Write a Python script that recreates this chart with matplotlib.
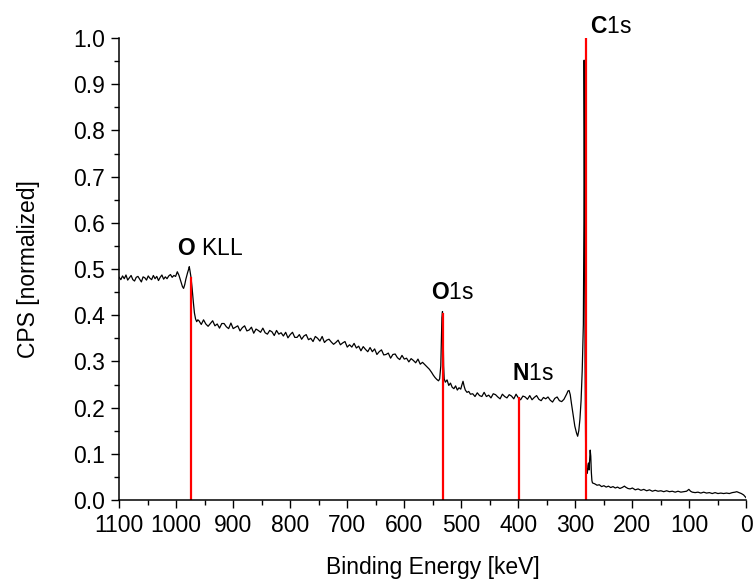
import matplotlib
matplotlib.use("Agg")
import matplotlib.pyplot as plt
from matplotlib.ticker import MultipleLocator

plt.rcParams['font.family'] = ['Liberation Sans', 'DejaVu Sans']
plt.rcParams['mathtext.fontset'] = 'custom'
plt.rcParams['mathtext.rm'] = 'Liberation Sans'
plt.rcParams['mathtext.bf'] = 'Liberation Sans:bold'

# survey spectrum (binding energy in eV, normalized counts)
energy = [
    # plateau
    1100, 1097, 1094, 1091, 1088, 1085, 1082, 1079, 1076, 1073, 1070, 1067, 1064, 1061,
    1058, 1055, 1052, 1049, 1046, 1043, 1040, 1037, 1034, 1031, 1028, 1025, 1022, 1019,
    1016, 1013, 1010, 1007, 1004, 1001,
    # O KLL
    998, 995, 992, 989, 987, 985, 983, 980, 978, 977, 976, 974, 972, 970, 968, 966, 964, 962,
    # background slope
    960, 956, 952, 948, 944, 940, 936, 932, 928, 924, 920, 916, 912, 908, 904, 900,
    896, 892, 888, 884, 880, 876, 872, 868, 864, 860, 856, 852, 848, 844, 840, 836,
    832, 828, 824, 820, 816, 812, 808, 804, 800, 796, 792, 788, 784, 780, 776, 772,
    768, 764, 760, 756, 752, 748, 744, 740, 736, 732, 728, 724,
    720, 716, 712, 708, 704, 700, 696, 692, 688, 684, 680, 676, 672, 668, 664, 660,
    656, 652, 648, 644, 640, 636, 632, 628, 624, 620, 616, 612, 608, 604, 600, 596,
    592, 588, 584, 580, 576, 572, 568, 564,
    # O1s
    560, 556, 552, 549, 546, 543, 540, 538, 536, 535, 534, 533, 532, 531, 530, 528,
    525, 522, 519, 516, 513, 510, 507, 504, 501, 499, 497, 495, 493, 490, 487, 484,
    # flat region with N1s
    480, 476, 472, 468, 464, 460, 456, 452, 448, 444, 440, 436, 432, 428, 424, 420,
    416, 412, 408, 404, 400, 396, 392, 388, 384, 380, 376, 372, 368, 364, 360, 356,
    352, 348, 344, 340, 336, 332, 328, 324, 320,
    # C1s
    317, 315, 313, 311, 309, 307, 304, 301, 298, 296, 294, 292, 290, 288, 286, 285,
    284.6, 284, 283, 282, 281, 280, 279, 278, 277, 276, 275, 274, 273, 272, 271, 270,
    # tail
    266, 262, 258, 254, 250, 246, 242, 238, 234, 230, 226, 222, 218, 214, 212, 208,
    204, 200, 195, 190, 185, 180, 175, 170, 165, 160, 155, 150, 145, 140, 135, 130,
    125, 120, 115, 110, 105, 101, 98, 95, 90, 85, 80, 75, 70, 65, 60, 55, 50, 45,
    40, 35, 30, 25, 20, 17, 13, 9, 5, 2, 0]
cps = [
    0.482, 0.477, 0.485, 0.479, 0.487, 0.476, 0.481, 0.486, 0.477, 0.474, 0.482, 0.484, 0.478, 0.472,
    0.483, 0.481, 0.476, 0.485, 0.480, 0.477, 0.486, 0.479, 0.484, 0.475, 0.482, 0.487, 0.478, 0.483,
    0.479, 0.485, 0.488, 0.482, 0.486, 0.484,
    0.494, 0.486, 0.474, 0.462, 0.458, 0.466, 0.478, 0.492, 0.500, 0.505, 0.498, 0.482, 0.458, 0.430,
    0.405, 0.392, 0.386, 0.390,
    0.388, 0.380, 0.390, 0.381, 0.376, 0.382, 0.388, 0.377, 0.381, 0.372, 0.382, 0.382, 0.375, 0.371,
    0.383, 0.371, 0.374, 0.377, 0.366, 0.373, 0.377, 0.366, 0.368, 0.374, 0.361, 0.370, 0.367, 0.363,
    0.372, 0.362, 0.359, 0.367, 0.364, 0.356, 0.367, 0.359, 0.362, 0.355, 0.363, 0.351, 0.358, 0.363,
    0.352, 0.352, 0.358, 0.348, 0.355, 0.358, 0.347, 0.350, 0.343, 0.354, 0.350, 0.344, 0.354, 0.341,
    0.346, 0.348, 0.342, 0.337,
    0.341, 0.346, 0.336, 0.340, 0.343, 0.331, 0.336, 0.331, 0.339, 0.329, 0.333, 0.323, 0.332, 0.326,
    0.321, 0.330, 0.321, 0.327, 0.315, 0.321, 0.325, 0.314, 0.315, 0.318, 0.307, 0.315, 0.316, 0.308,
    0.304, 0.313, 0.305, 0.307, 0.299, 0.306, 0.302, 0.297, 0.305, 0.294, 0.298, 0.293,
    0.288, 0.283, 0.276, 0.270, 0.265, 0.261, 0.258, 0.262, 0.290, 0.340, 0.395, 0.408, 0.370, 0.290,
    0.262, 0.255, 0.260, 0.248, 0.253, 0.244, 0.241, 0.247, 0.238, 0.243, 0.240, 0.249, 0.257, 0.246,
    0.238, 0.233, 0.235, 0.229,
    0.230, 0.224, 0.232, 0.226, 0.224, 0.233, 0.224, 0.227, 0.221, 0.230, 0.228, 0.223, 0.219, 0.229,
    0.224, 0.221, 0.228, 0.225, 0.219, 0.229, 0.221, 0.217, 0.225, 0.223, 0.218, 0.226, 0.217, 0.222,
    0.226, 0.218, 0.215, 0.222, 0.219, 0.223, 0.216, 0.212, 0.220, 0.223, 0.215, 0.213, 0.218,
    0.225, 0.230, 0.236, 0.237, 0.228, 0.210, 0.185, 0.160, 0.145, 0.138, 0.150, 0.175, 0.215, 0.280,
    0.380, 0.600, 0.952, 0.800, 0.300, 0.120, 0.070, 0.065, 0.058, 0.075, 0.080, 0.065, 0.085, 0.108,
    0.095, 0.060, 0.042, 0.037,
    0.035, 0.032, 0.033, 0.029, 0.031, 0.028, 0.030, 0.027, 0.029, 0.026, 0.028, 0.025, 0.027, 0.030,
    0.028, 0.025, 0.024, 0.026, 0.022, 0.024, 0.021, 0.023, 0.020, 0.022, 0.019, 0.021, 0.019, 0.020,
    0.018, 0.020, 0.018, 0.019, 0.017, 0.019, 0.017, 0.018, 0.019, 0.023, 0.019, 0.017, 0.016, 0.017,
    0.015, 0.017, 0.015, 0.016, 0.014, 0.016, 0.014, 0.015, 0.014, 0.015, 0.014, 0.016, 0.017, 0.018,
    0.016, 0.014, 0.011, 0.007, 0.004]

# peak markers: position, height, label, label anchor
peak_pos = [974, 532, 399, 282]
peak_height = [0.483, 0.405, 0.223, 1.0]
peak_label = [r'$\mathbf{O}$ KLL', r'$\mathbf{O}$1s', r'$\mathbf{N}$1s', r'$\mathbf{C}$1s']
label_x = [998, 553, 411, 275]
label_y = [0.545, 0.449, 0.273, 1.025]

fs = 16.5

fig = plt.figure(figsize=(7.54, 5.81), dpi=100)
ax = fig.add_axes([0.158, 0.1394, 0.832, 0.7952])

ax.plot(energy, cps, color='black', lw=0.9)
ax.vlines(peak_pos, 0, peak_height, color='#ff0000', lw=1.6)
for lx, ly, lab in zip(label_x, label_y, peak_label):
    ax.text(lx, ly, lab, fontsize=fs, ha='left', va='center', clip_on=False)

ax.set_xlim(1100, 0)
ax.set_ylim(0, 1.0)
ax.xaxis.set_major_locator(MultipleLocator(100))
ax.xaxis.set_minor_locator(MultipleLocator(50))
ax.yaxis.set_major_locator(MultipleLocator(0.1))
ax.yaxis.set_minor_locator(MultipleLocator(0.05))
ax.yaxis.set_major_formatter(plt.FormatStrFormatter('%.1f'))
ax.tick_params(which='major', direction='out', length=6, width=1, labelsize=fs, pad=4)
ax.tick_params(which='minor', direction='out', length=3.5, width=1)
for s in ['top', 'right']:
    ax.spines[s].set_visible(False)
for s in ['left', 'bottom']:
    ax.spines[s].set_linewidth(1.1)

ax.set_xlabel('Binding Energy [keV]', fontsize=fs, labelpad=14)
ax.set_ylabel('CPS [normalized]', fontsize=fs, labelpad=24)

fig.savefig('out.png', dpi=100)
